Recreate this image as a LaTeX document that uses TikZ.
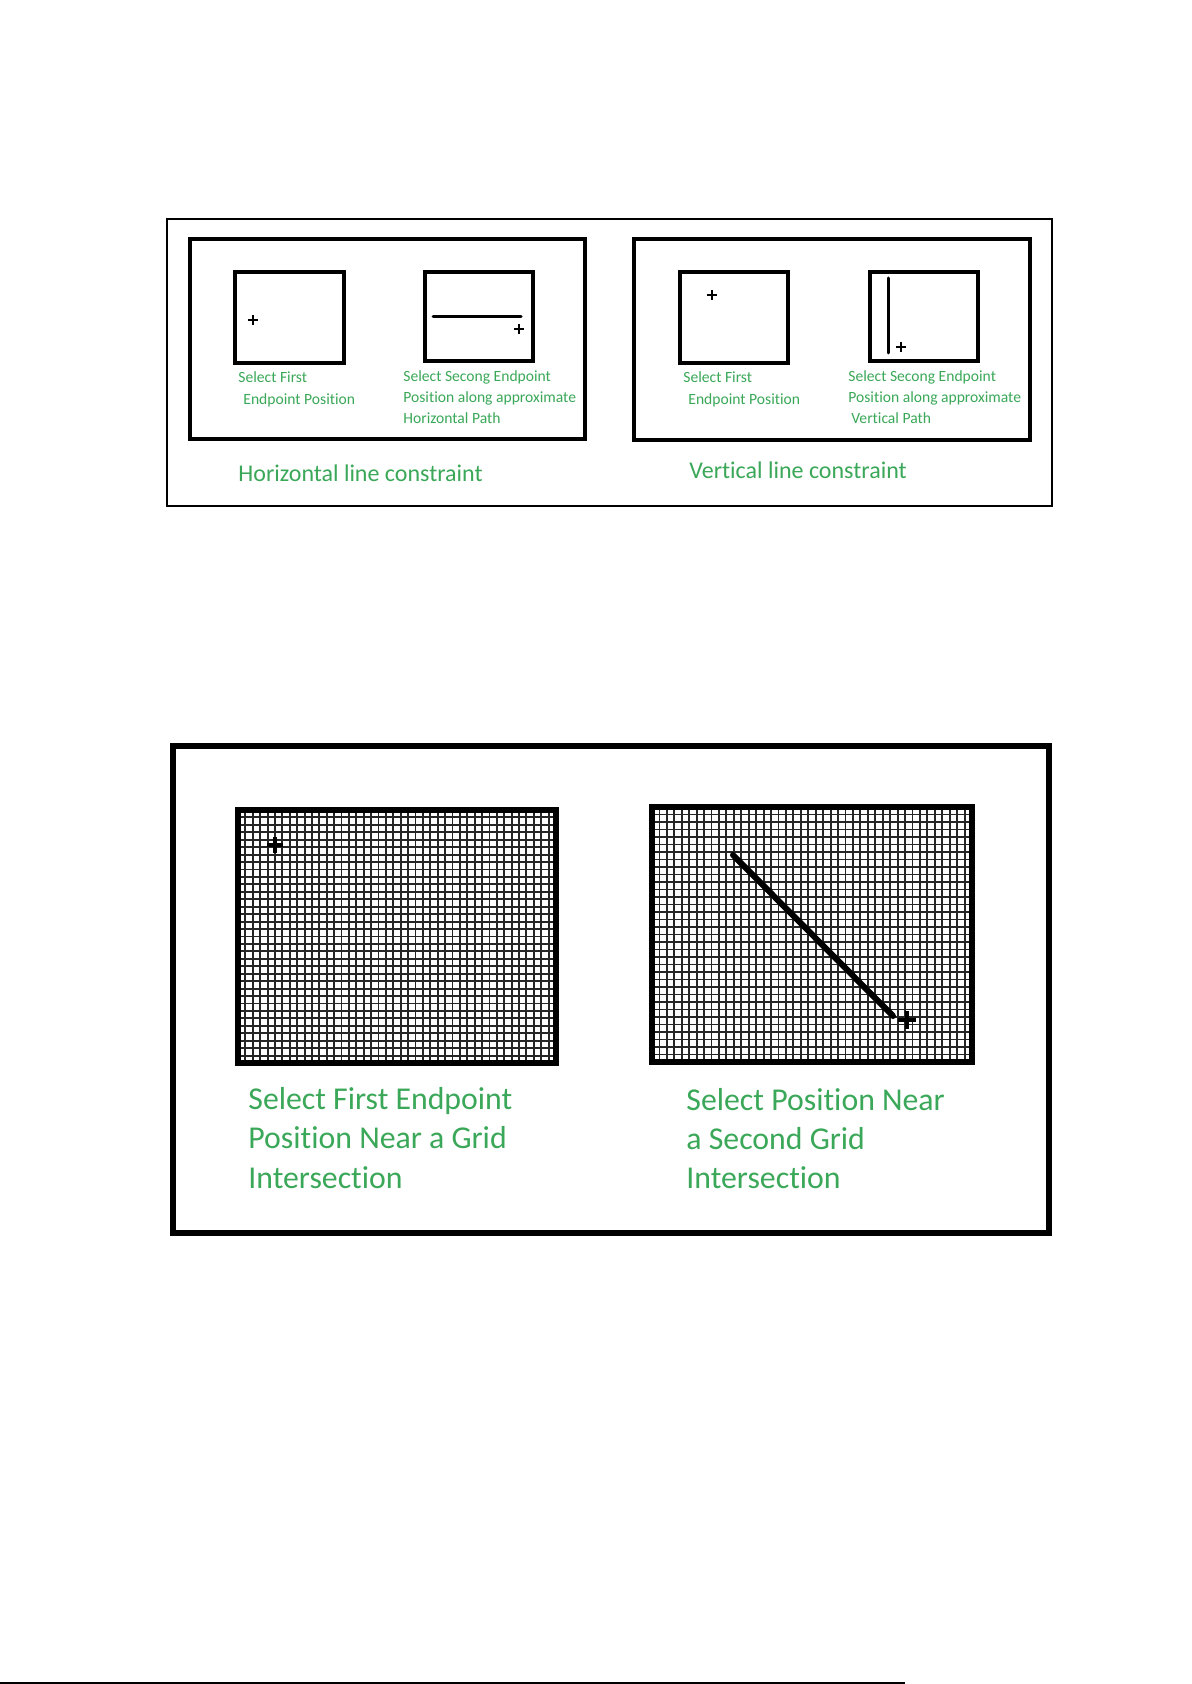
\documentclass[tikz,border=0pt]{standalone}
\usepackage{fontspec}
\setmainfont{Carlito}[Ligatures={NoCommon,NoDiscretionary,NoHistoric},Contextuals=NoAlternate]
\definecolor{lbl}{RGB}{58,168,88}
\begin{document}
\begin{tikzpicture}[x=0.5pt,y=-0.5pt,
  thin box/.style={draw=black,line width=0.75pt},
  thick box/.style={draw=black,line width=2pt},
  heavy box/.style={draw=black,line width=2.6pt},
  small txt/.style={anchor=base west,inner sep=0pt,text=lbl,font=\fontsize{7.8}{10}\selectfont},
  cap txt/.style={anchor=base west,inner sep=0pt,text=lbl,font=\fontsize{12}{14}\selectfont},
  big txt/.style={anchor=base west,inner sep=0pt,text=lbl,font=\fontsize{15.9}{19}\selectfont},
  gridline/.style={draw=black!85,line width=0.95pt},
  cursor/.style={draw=black,line width=0.6pt},
  bigcursor/.style={draw=black,line width=1.6pt},
  stroke/.style={draw=black,line width=1.5pt,line cap=round},
  heavystroke/.style={draw=black,line width=3pt,line cap=round}]
\useasboundingbox (0,0) rectangle (1192,1684);
\fill[white] (0,0) rectangle (1192,1684);

% ---------- top panel ----------
\draw[thin box] (167,219) rectangle (1052,506);
\draw[thick box] (190,239) rectangle (585,439);
\draw[thick box] (634,239) rectangle (1030,440);

\draw[thick box] (235,272) rectangle (344,363);
\draw[thick box] (425,272) rectangle (533,361);
\draw[thick box] (680,272) rectangle (788,363);
\draw[thick box] (870,272) rectangle (978,361);

\draw[cursor] (253,320) +(-5,0) -- +(5,0) +(0,-5) -- +(0,5);
\draw[stroke] (433,317) -- (521,317);
\draw[cursor] (519,329) +(-5,0) -- +(5,0) +(0,-5) -- +(0,5);

\draw[cursor] (712,295) +(-5,0) -- +(5,0) +(0,-5) -- +(0,5);
\draw[stroke] (888,278) -- (888,353);
\draw[cursor] (901,347) +(-5,0) -- +(5,0) +(0,-5) -- +(0,5);

\node[small txt] (h1a) at (238,383) {Select First};
\node[small txt] (h1b) at (243,405) {Endpoint Position};
\node[small txt] (h2a) at (403,382) {Select Secong Endpoint};
\node[small txt] (h2b) at (403,403) {Position along approximate};
\node[small txt] (h2c) at (403,423) {Horizontal Path};
\node[cap txt] (hcap) at (238,481) {Horizontal line constraint};

\node[small txt] (v1a) at (683,383) {Select First};
\node[small txt] (v1b) at (688,405) {Endpoint Position};
\node[small txt] (v2a) at (848,382) {Select Secong Endpoint};
\node[small txt] (v2b) at (848,403) {Position along approximate};
\node[small txt] (v2c) at (851,423) {Vertical Path};
\node[cap txt] (vcap) at (689,478) {Vertical line constraint};

% ---------- bottom panel ----------
\draw[heavy box] (173,746) rectangle (1049,1233);

\begin{scope}
  \clip (238,810) rectangle (556,1063);
  \foreach \i in {0,...,43} \draw[gridline] ({238+\i*318/43},810) -- ++(0,253);
  \foreach \j in {0,...,34} \draw[gridline] (238,{810+\j*253/34}) -- ++(318,0);
\end{scope}
\draw[heavy box] (238,810) rectangle (556,1063);

\begin{scope}
  \clip (652,807) rectangle (972,1062);
  \foreach \i in {0,...,43} \draw[gridline] ({652+\i*320/43},807) -- ++(0,255);
  \foreach \j in {0,...,34} \draw[gridline] (652,{807+\j*255/34}) -- ++(320,0);
\end{scope}
\draw[heavy box] (652,807) rectangle (972,1062);

\draw[bigcursor] (275,845) +(-8,0) -- +(8,0) +(0,-8) -- +(0,8);
\draw[heavystroke] (733,855) -- (893,1016);
\draw[bigcursor] (907,1020) +(-9,0) -- +(9,0) +(0,-9) -- +(0,9);

\node[big txt] (g1a) at (248,1109) {Select First Endpoint};
\node[big txt] (g1b) at (248,1148) {Position Near a Grid};
\node[big txt] (g1c) at (248,1188) {Intersection};
\node[big txt] (g2a) at (686,1110) {Select Position Near};
\node[big txt] (g2b) at (686,1149) {a Second Grid};
\node[big txt] (g2c) at (686,1188) {Intersection};

% ---------- page foot rule ----------
\draw[black,line width=0.6pt] (0,1683) -- (905,1683);
\end{tikzpicture}
\end{document}
